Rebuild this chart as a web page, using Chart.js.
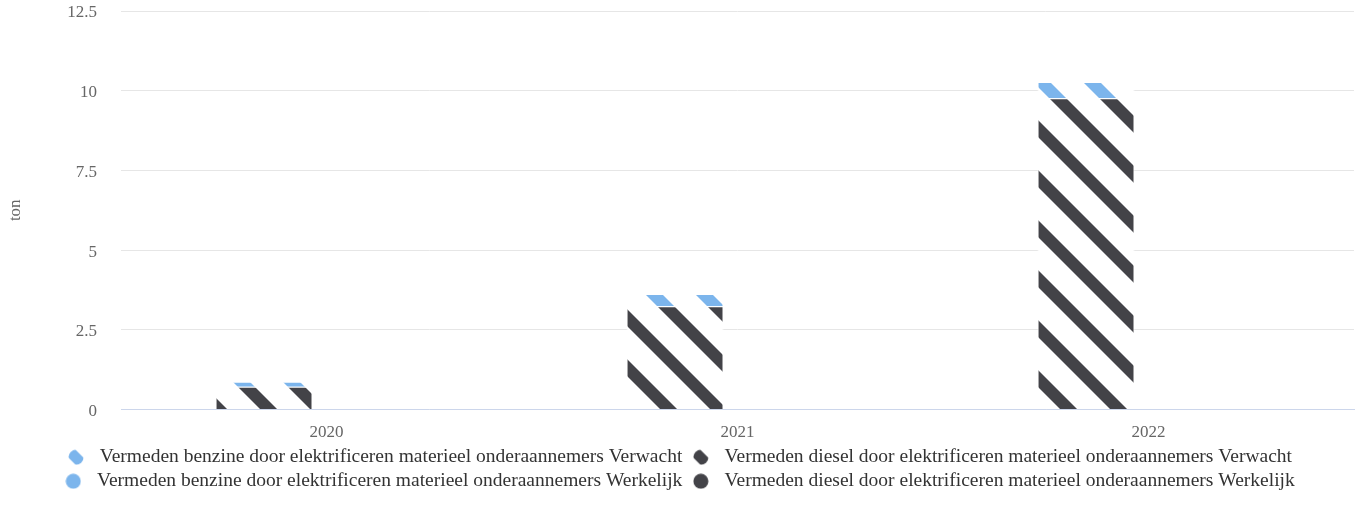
<!DOCTYPE html>
<html>
<head>
<meta charset="utf-8">
<script src="https://cdn.jsdelivr.net/npm/chart.js@4.4.1/dist/chart.umd.min.js"></script>
<style>
  html, body { margin: 0; padding: 0; background: #ffffff; }
  #wrap { position: relative; width: 1361px; height: 524px; }
</style>
</head>
<body>
<div id="wrap"><canvas id="chart"></canvas></div>
<script>
/*
* data, in ton per year
*/
const years = ['2020', '2021', '2022'];
const benzineVerwacht = [0.16, 0.38, 0.51];
const dieselVerwacht = [0.71, 3.24, 9.76];
const benzineWerkelijk = [0, 0, 0];
const dieselWerkelijk = [0, 0, 0];
const yTicks = [0, 2.5, 5, 7.5, 10, 12.5];

const BLUE = '#7cb5ec';
const DARK = '#434348';
const FONT = "'Liberation Serif', 'Times New Roman', serif";

const canvas = document.querySelector('#chart');
const mainCtx = canvas.getContext('2d');

/*
* builds a diagonal hatch pattern (top-left to bottom-right stripes on white)
*/
function makeHatch(color) {
    const tile = document.createElement('canvas');
    tile.width = 50;
    tile.height = 50;
    const ctx = tile.getContext('2d');
    ctx.fillStyle = '#ffffff';
    ctx.fillRect(0, 0, 50, 50);
    ctx.fillStyle = color;
    for (let n = -2; n <= 2; n++) {
        const a = 32 + 50 * n;
        const b = 49 + 50 * n;
        ctx.beginPath();
        ctx.moveTo(-10, -10 + a);
        ctx.lineTo(60, 60 + a);
        ctx.lineTo(60, 60 + b);
        ctx.lineTo(-10, -10 + b);
        ctx.closePath();
        ctx.fill();
    }
    return mainCtx.createPattern(tile, 'repeat');
}

/*
* small round legend marker, hatched or solid
*/
function makeMarker(color, hatched) {
    const c = document.createElement('canvas');
    c.width = 16;
    c.height = 16;
    const ctx = c.getContext('2d');
    ctx.beginPath();
    ctx.arc(8, 8, 7.5, 0, Math.PI * 2);
    ctx.clip();
    ctx.fillStyle = color;
    if (hatched) {
        ctx.beginPath();
        ctx.moveTo(-4, -4 - 7);
        ctx.lineTo(20, 20 - 7);
        ctx.lineTo(20, 20 + 8);
        ctx.lineTo(-4, -4 + 8);
        ctx.closePath();
        ctx.fill();
    } else {
        ctx.fillRect(0, 0, 16, 16);
    }
    return c;
}

// legend shows benzine first, the stack draws diesel at the bottom
const legendRank = [1, 0, 3, 2];

const barOptions = {
    categoryPercentage: 0.608,
    barPercentage: 0.776,
    borderColor: '#ffffff',
    borderWidth: 1
};

const chart = new Chart(canvas, {
    type: 'bar',
    data: {
        labels: years,
        datasets: [
            Object.assign({
                label: 'Vermeden diesel door elektrificeren materieel onderaannemers Verwacht',
                data: dieselVerwacht,
                stack: 'Verwacht',
                backgroundColor: makeHatch(DARK),
                pointStyle: makeMarker(DARK, true)
            }, barOptions),
            Object.assign({
                label: 'Vermeden benzine door elektrificeren materieel onderaannemers Verwacht',
                data: benzineVerwacht,
                stack: 'Verwacht',
                backgroundColor: makeHatch(BLUE),
                pointStyle: makeMarker(BLUE, true)
            }, barOptions),
            Object.assign({
                label: 'Vermeden diesel door elektrificeren materieel onderaannemers Werkelijk',
                data: dieselWerkelijk,
                stack: 'Werkelijk',
                backgroundColor: DARK,
                pointStyle: makeMarker(DARK, false)
            }, barOptions),
            Object.assign({
                label: 'Vermeden benzine door elektrificeren materieel onderaannemers Werkelijk',
                data: benzineWerkelijk,
                stack: 'Werkelijk',
                backgroundColor: BLUE,
                pointStyle: makeMarker(BLUE, false)
            }, barOptions)
        ]
    },
    options: {
        responsive: true,
        maintainAspectRatio: false,
        animation: false,
        layout: {
            padding: { left: 0, right: 7, top: 11, bottom: 23 }
        },
        scales: {
            x: {
                stacked: true,
                grid: { display: false, drawTicks: false },
                border: { color: '#ccd6eb', width: 1 },
                ticks: {
                    color: '#666666',
                    font: { family: FONT, size: 17 },
                    padding: 13
                },
                afterFit: function(scale) {
                    scale.height = 33.5;
                }
            },
            y: {
                stacked: true,
                min: 0,
                max: 12.5,
                afterBuildTicks: function(scale) {
                    scale.ticks = yTicks.map(v => ({ value: v }));
                },
                grid: { color: '#e6e6e6', drawTicks: false },
                border: { display: false },
                ticks: {
                    color: '#666666',
                    font: { family: FONT, size: 17 },
                    padding: 24,
                    labelOffset: 2
                },
                title: {
                    display: true,
                    text: 'ton',
                    color: '#666666',
                    font: { family: FONT, size: 17 },
                    padding: { top: 5, bottom: 0 }
                },
                afterFit: function(scale) {
                    // fixed axis width, and no extra room above/below for the tick padding
                    scale.width = 121;
                    scale.paddingTop = 0;
                    scale.paddingBottom = 0;
                }
            }
        },
        plugins: {
            tooltip: { enabled: false },
            legend: {
                position: 'bottom',
                maxHeight: 58,
                labels: {
                    usePointStyle: true,
                    pointStyleWidth: 28,
                    color: '#333333',
                    font: { family: FONT, size: 19.5 },
                    padding: 4.5,
                    sort: function(a, b) {
                        return legendRank[a.datasetIndex] - legendRank[b.datasetIndex];
                    }
                }
            }
        }
    }
});
</script>
</body>
</html>
